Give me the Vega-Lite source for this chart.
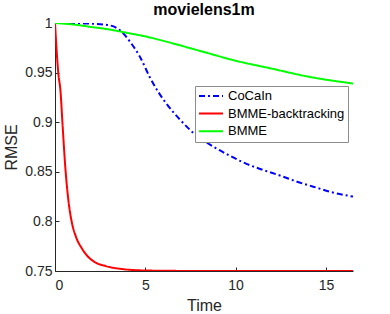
{
  "$schema": "https://vega.github.io/schema/vega-lite/v6.json",
  "width": 298,
  "height": 248,
  "autosize": {"type": "none"},
  "padding": {"left": 55, "top": 23, "right": 37, "bottom": 43},
  "background": "white",
  "config": {
    "font": "Liberation Sans",
    "view": {"stroke": null},
    "axis": {
      "domainColor": "#262626",
      "tickColor": "#262626",
      "labelColor": "#262626",
      "titleColor": "#262626",
      "labelFont": "Liberation Sans",
      "titleFont": "Liberation Sans",
      "labelFontSize": 14,
      "titleFontSize": 16,
      "titleFontWeight": "normal",
      "grid": false,
      "tickSize": -4,
      "domainWidth": 1
    }
  },
  "title": {
    "text": "movielens1m",
    "font": "Liberation Sans",
    "fontSize": 16,
    "fontWeight": "bold",
    "color": "#000000",
    "anchor": "middle",
    "offset": -2
  },
  "data": {
    "values": [
      {"series": "CoCaIn", "t": 0, "rmse": 1.0},
      {"series": "CoCaIn", "t": 1, "rmse": 0.9998},
      {"series": "CoCaIn", "t": 2, "rmse": 0.9993},
      {"series": "CoCaIn", "t": 2.9, "rmse": 0.998},
      {"series": "CoCaIn", "t": 3.3, "rmse": 0.996},
      {"series": "CoCaIn", "t": 3.7, "rmse": 0.991},
      {"series": "CoCaIn", "t": 4.2, "rmse": 0.98},
      {"series": "CoCaIn", "t": 4.7, "rmse": 0.966},
      {"series": "CoCaIn", "t": 5.26, "rmse": 0.945},
      {"series": "CoCaIn", "t": 5.7, "rmse": 0.931},
      {"series": "CoCaIn", "t": 6.2, "rmse": 0.918},
      {"series": "CoCaIn", "t": 6.9, "rmse": 0.903},
      {"series": "CoCaIn", "t": 7.8, "rmse": 0.887},
      {"series": "CoCaIn", "t": 8.7, "rmse": 0.876},
      {"series": "CoCaIn", "t": 9.7, "rmse": 0.866},
      {"series": "CoCaIn", "t": 10.6, "rmse": 0.858},
      {"series": "CoCaIn", "t": 11.5, "rmse": 0.852},
      {"series": "CoCaIn", "t": 12.5, "rmse": 0.846},
      {"series": "CoCaIn", "t": 13.4, "rmse": 0.840},
      {"series": "CoCaIn", "t": 14.3, "rmse": 0.835},
      {"series": "CoCaIn", "t": 15.2, "rmse": 0.830},
      {"series": "CoCaIn", "t": 16.5, "rmse": 0.825},
      {"series": "BMME-backtracking", "t": 0, "rmse": 1.0},
      {"series": "BMME-backtracking", "t": 0.18, "rmse": 0.95},
      {"series": "BMME-backtracking", "t": 0.31, "rmse": 0.93},
      {"series": "BMME-backtracking", "t": 0.41, "rmse": 0.90},
      {"series": "BMME-backtracking", "t": 0.59, "rmse": 0.85},
      {"series": "BMME-backtracking", "t": 0.75, "rmse": 0.82},
      {"series": "BMME-backtracking", "t": 0.92, "rmse": 0.80},
      {"series": "BMME-backtracking", "t": 1.15, "rmse": 0.785},
      {"series": "BMME-backtracking", "t": 1.48, "rmse": 0.773},
      {"series": "BMME-backtracking", "t": 1.8, "rmse": 0.765},
      {"series": "BMME-backtracking", "t": 2.2, "rmse": 0.759},
      {"series": "BMME-backtracking", "t": 2.8, "rmse": 0.755},
      {"series": "BMME-backtracking", "t": 3.7, "rmse": 0.752},
      {"series": "BMME-backtracking", "t": 5, "rmse": 0.7505},
      {"series": "BMME-backtracking", "t": 7, "rmse": 0.7501},
      {"series": "BMME-backtracking", "t": 10, "rmse": 0.75},
      {"series": "BMME-backtracking", "t": 16.5, "rmse": 0.75},
      {"series": "BMME", "t": 0, "rmse": 1.0},
      {"series": "BMME", "t": 1, "rmse": 0.9985},
      {"series": "BMME", "t": 2, "rmse": 0.996},
      {"series": "BMME", "t": 3, "rmse": 0.9935},
      {"series": "BMME", "t": 4, "rmse": 0.990},
      {"series": "BMME", "t": 5, "rmse": 0.9865},
      {"series": "BMME", "t": 6, "rmse": 0.982},
      {"series": "BMME", "t": 8, "rmse": 0.972},
      {"series": "BMME", "t": 10, "rmse": 0.962},
      {"series": "BMME", "t": 12, "rmse": 0.954},
      {"series": "BMME", "t": 14, "rmse": 0.946},
      {"series": "BMME", "t": 16.5, "rmse": 0.939}
    ]
  },
  "mark": {"type": "line", "strokeWidth": 2, "interpolate": "monotone", "clip": true},
  "encoding": {
    "x": {
      "field": "t",
      "type": "quantitative",
      "title": "Time",
      "scale": {"domain": [0, 16.5], "nice": false, "zero": false},
      "axis": {"values": [0, 5, 10, 15], "labelPadding": 11, "titlePadding": 5}
    },
    "y": {
      "field": "rmse",
      "type": "quantitative",
      "title": "RMSE",
      "scale": {"domain": [0.75, 1], "nice": false, "zero": false},
      "axis": {"values": [0.75, 0.8, 0.85, 0.9, 0.95, 1], "format": "~g", "labelPadding": 7, "titlePadding": 5}
    },
    "color": {
      "field": "series",
      "type": "nominal",
      "scale": {"domain": ["CoCaIn", "BMME-backtracking", "BMME"], "range": ["#0000ff", "#ff0000", "#00ff00"]},
      "legend": {
        "title": null,
        "orient": "none",
        "legendX": 140,
        "legendY": 63,
        "fillColor": "white",
        "strokeColor": "#8c8c8c",
        "padding": 3,
        "symbolType": "M-1,0L3,0",
        "symbolSize": 144,
        "symbolStrokeWidth": 2,
        "labelFontSize": 13,
        "labelFont": "Liberation Sans",
        "labelColor": "#000000",
        "labelOffset": 16,
        "rowPadding": 3.6
      }
    },
    "strokeDash": {
      "field": "series",
      "type": "nominal",
      "scale": {"domain": ["CoCaIn", "BMME-backtracking", "BMME"], "range": [[6, 3, 2, 3], [1, 0], [1, 0]]},
      "legend": {
        "title": null,
        "orient": "none",
        "legendX": 140,
        "legendY": 63,
        "fillColor": "white",
        "strokeColor": "#8c8c8c",
        "padding": 3,
        "symbolType": "M-1,0L3,0",
        "symbolSize": 144,
        "symbolStrokeWidth": 2,
        "labelFontSize": 13,
        "labelFont": "Liberation Sans",
        "labelColor": "#000000",
        "labelOffset": 16,
        "rowPadding": 3.6
      }
    }
  }
}
